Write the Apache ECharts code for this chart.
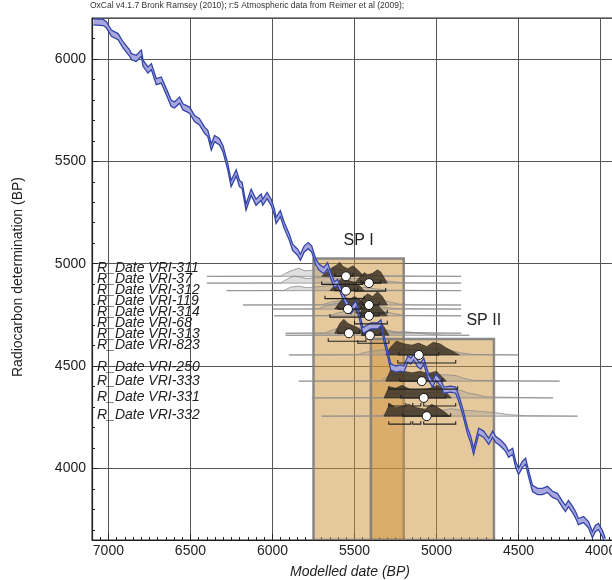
<!DOCTYPE html>
<html>
<head>
<meta charset="utf-8">
<script src="https://cdn.jsdelivr.net/npm/echarts/dist/echarts.min.js"></script>
<style>
  html, body { margin: 0; padding: 0; background: #fff; }
  #main { width: 612px; height: 580px; }
</style>
</head>
<body>
<div id="main"></div>
<script>
// calibration curve (IntCal09 as drawn)
const curveYears = [7091, 7032, 7012, 6982, 6941, 6911, 6870, 6860, 6830, 6799, 6789, 6759, 6738, 6708, 6678, 6647, 6617, 6597, 6566, 6546, 6505, 6475, 6445, 6414, 6394, 6373, 6353, 6323, 6302, 6272, 6252, 6221, 6201, 6185, 6161, 6130, 6100, 6069, 6059, 6033, 6008, 5988, 5978, 5952, 5928, 5897, 5877, 5846, 5830, 5806, 5782, 5761, 5735, 5715, 5687, 5664, 5644, 5623, 5603, 5583, 5552, 5522, 5491, 5473, 5449, 5400, 5358, 5339, 5321, 5297, 5279, 5248, 5218, 5199, 5175, 5157, 5139, 5114, 5096, 5078, 5047, 5023, 5005, 4974, 4956, 4914, 4883, 4865, 4841, 4810, 4792, 4774, 4743, 4713, 4682, 4658, 4640, 4609, 4579, 4561, 4536, 4518, 4500, 4476, 4457, 4439, 4415, 4384, 4354, 4324, 4293, 4263, 4232, 4214, 4196, 4171, 4153, 4135, 4104, 4074, 4050, 4032, 4013, 3989, 3971];
const curveAges = [6181, 6178, 6167, 6126, 6109, 6069, 6028, 6011, 6003, 6028, 5979, 5946, 5962, 5889, 5897, 5840, 5783, 5775, 5799, 5766, 5750, 5709, 5693, 5652, 5636, 5570, 5611, 5595, 5562, 5472, 5391, 5443, 5391, 5382, 5276, 5349, 5300, 5325, 5300, 5333, 5300, 5251, 5211, 5244, 5186, 5129, 5080, 5055, 5031, 5072, 5088, 5072, 5006, 4982, 4966, 4990, 4941, 4897, 4908, 4868, 4810, 4770, 4804, 4755, 4672, 4696, 4696, 4711, 4637, 4559, 4495, 4485, 4490, 4485, 4534, 4524, 4544, 4510, 4500, 4524, 4441, 4412, 4446, 4417, 4382, 4387, 4382, 4343, 4279, 4181, 4142, 4083, 4181, 4167, 4132, 4167, 4142, 4123, 4098, 4069, 4083, 4020, 3985, 4020, 4034, 3975, 3902, 3887, 3887, 3897, 3873, 3863, 3824, 3804, 3828, 3799, 3774, 3740, 3750, 3725, 3676, 3706, 3716, 3681, 3642];
const curveSigma = 15;

// phases
const phaseNames = ['SP I', 'SP II'];
const phaseStart = [5750, 5400];
const phaseEnd = [5200, 4650];
const phaseTop = [5025, 4632];
const phaseLabelYear = [5475, 4712];

// dates
const dateNames = ['R_Date VRI-311', 'R_Date VRI-37', 'R_Date VRI-312', 'R_Date VRI-119', 'R_Date VRI-314', 'R_Date VRI-68',
  'R_Date VRI-313', 'R_Date VRI-823', 'R_Date VRI-250', 'R_Date VRI-333', 'R_Date VRI-331', 'R_Date VRI-332'];
const labelAges = [4979, 4925, 4873, 4818, 4765, 4711, 4655, 4601, 4495, 4426, 4348, 4258];
const dateAges = [4938, 4905, 4868, 4798, 4778, 4745, 4660, 4650, 4554, 4426, 4344, 4255];
const dateMeans = [5552, 5412, 5552, 5412, 5540, 5412, 5534, 5406, 5108, 5090, 5078, 5060];
const range68 = [[[5620, 5510]], [[5460, 5340]], [[5620, 5480]], [[5450, 5350]], [[5600, 5460]], [[5460, 5350]],
  [[5600, 5470]], [[5450, 5340]], [[5230, 4987]], [[5224, 4962]], [[5218, 4944]], [[5206, 4914]]];
const range95 = [[[5700, 5450]], [[5500, 5310]], [[5680, 5440]], [[5490, 5300]], [[5650, 5420]], [[5500, 5300]],
  [[5660, 5430]], [[5480, 5290]], [[5236, 4883]], [[5291, 4871]],
  [[5291, 5187], [5145, 5096], [5078, 4883]], [[5291, 5157], [5145, 5096], [5078, 4883]]];
// likelihoods (unmodelled), [year, relative density]
const likelihoods = [
  [[6400,0],[5950,0.02],[5920,0.3],[5880,0.6],[5840,0.8],[5800,0.55],[5760,0.6],[5720,0.75],[5680,0.6],[5640,0.7],[5600,0.8],[5560,0.5],[5500,0.3],[5440,0.15],[5350,0.05],[4850,0]],
  [[6400,0],[5950,0.02],[5910,0.4],[5870,0.7],[5830,0.6],[5790,0.45],[5740,0.55],[5690,0.6],[5620,0.5],[5560,0.4],[5500,0.45],[5430,0.5],[5360,0.35],[5280,0.15],[5200,0.03],[4850,0]],
  [[6280,0],[5930,0.02],[5890,0.35],[5840,0.45],[5790,0.3],[5720,0.4],[5650,0.5],[5580,0.55],[5520,0.5],[5460,0.35],[5380,0.2],[5300,0.05],[4850,0]],
  [[6180,0],[5700,0.03],[5640,0.3],[5580,0.45],[5520,0.6],[5460,0.7],[5400,0.6],[5350,0.65],[5300,0.35],[5230,0.1],[5150,0.02],[4850,0]],
  [[6000,0],[5720,0.03],[5670,0.35],[5620,0.55],[5560,0.7],[5500,0.6],[5450,0.55],[5400,0.45],[5340,0.25],[5260,0.05],[4850,0]],
  [[5990,0],[5650,0.03],[5600,0.3],[5540,0.5],[5480,0.55],[5430,0.65],[5380,0.6],[5330,0.5],[5270,0.25],[5200,0.05],[4850,0]],
  [[5920,0],[5680,0.03],[5630,0.35],[5580,0.6],[5530,0.55],[5480,0.5],[5420,0.55],[5360,0.45],[5300,0.3],[5240,0.1],[4850,0]],
  [[5920,0],[5600,0.03],[5540,0.3],[5480,0.45],[5420,0.55],[5360,0.6],[5300,0.45],[5250,0.3],[5200,0.35],[5150,0.3],[5100,0.2],[5040,0.1],[4950,0.02],[4800,0]],
  [[5900,0],[5480,0.03],[5440,0.25],[5380,0.4],[5320,0.55],[5260,0.6],[5200,0.5],[5140,0.55],[5080,0.6],[5020,0.65],[4960,0.6],[4900,0.4],[4850,0.2],[4780,0.05],[4500,0]],
  [[5840,0],[5340,0.03],[5300,0.45],[5250,0.7],[5200,0.6],[5140,0.55],[5080,0.6],[5020,0.6],[4960,0.65],[4920,0.6],[4880,0.55],[4840,0.3],[4780,0.08],[4250,0]],
  [[5760,0],[5330,0.03],[5290,0.4],[5230,0.5],[5160,0.45],[5090,0.5],[5020,0.55],[4950,0.6],[4890,0.7],[4850,0.75],[4810,0.5],[4760,0.35],[4700,0.1],[4290,0]],
  [[5700,0],[5330,0.03],[5290,0.5],[5220,0.45],[5150,0.5],[5080,0.5],[5010,0.65],[4960,0.6],[4910,0.75],[4860,0.6],[4790,0.55],[4720,0.45],[4640,0.35],[4560,0.15],[4460,0.05],[4140,0]]
];
// posteriors (modelled)
const posteriors = [
  [[5700,0],[5670,0.3],[5640,0.6],[5610,0.8],[5590,1.0],[5570,0.7],[5540,0.55],[5510,0.75],[5480,0.45],[5450,0.1],[5430,0]],
  [[5500,0],[5470,0.4],[5440,0.75],[5420,0.6],[5390,0.7],[5360,0.95],[5340,0.8],[5320,0.4],[5300,0]],
  [[5650,0],[5620,0.4],[5590,0.75],[5560,1.0],[5530,0.7],[5500,0.6],[5470,0.35],[5440,0]],
  [[5480,0],[5450,0.5],[5420,0.8],[5390,0.6],[5360,0.95],[5330,0.6],[5300,0]],
  [[5620,0],[5590,0.5],[5560,0.85],[5530,0.7],[5500,0.9],[5470,0.7],[5440,0.3],[5410,0]],
  [[5480,0],[5450,0.5],[5420,0.85],[5390,0.7],[5360,0.8],[5330,0.4],[5300,0]],
  [[5620,0],[5590,0.7],[5565,1.0],[5540,0.7],[5510,0.55],[5480,0.4],[5450,0.15],[5430,0]],
  [[5460,0],[5430,0.5],[5400,0.65],[5370,0.85],[5345,1.0],[5320,0.6],[5290,0]],
  [[5310,0],[5280,0.55],[5245,1.0],[5200,0.8],[5150,0.7],[5110,0.85],[5060,0.6],[5020,0.9],[4980,0.8],[4940,0.5],[4900,0.25],[4860,0]],
  [[5310,0],[5280,0.8],[5245,1.0],[5200,0.7],[5150,0.6],[5100,0.7],[5050,0.55],[5000,0.7],[4970,0.35],[4940,0]],
  [[5320,0],[5290,0.8],[5250,0.7],[5210,0.9],[5160,0.6],[5100,0.6],[5050,0.65],[4990,0.9],[4950,0.5],[4910,0]],
  [[5320,0],[5285,0.9],[5250,0.6],[5200,0.7],[5170,0.85],[5120,0.6],[5070,0.5],[5030,0.85],[4990,0.6],[4950,0.3],[4920,0]]
];

const FONT = 'Liberation Sans, Arial, sans-serif';
const chart = echarts.init(document.getElementById('main'));

function shape(api, pts, age, h) {
    return pts.map(p => {
        const c = api.coord([p[0], age]);
        return [c[0], c[1] - p[1] * h];
    });
}

const rowData = dateAges.map((a, i) => [dateMeans[i], a]);
const plain = v => String(v);

const option = {
    animation: false,
    backgroundColor: '#fff',
    grid: { left: 92, top: 18, width: 525, height: 522, show: true, borderColor: '#222', borderWidth: 1,
            containLabel: false, outerBoundsMode: 'none' },
    xAxis: [
        {
            type: 'value', inverse: true, min: 3900, max: 7100, minInterval: 500, maxInterval: 500,
            position: 'bottom',
            axisLine: { show: true, onZero: false, lineStyle: { color: '#222', width: 1.2 } },
            axisTick: { inside: true, length: 6, lineStyle: { color: '#222' } },
            axisLabel: { showMinLabel: false, showMaxLabel: false, color: '#222', fontSize: 14, margin: 4, fontFamily: FONT, formatter: plain },
            splitLine: { show: true, lineStyle: { color: '#555', width: 1 } }
        },
        {   // minor ticks every 50
            type: 'value', inverse: true, min: 3900, max: 7100, minInterval: 50, maxInterval: 50,
            position: 'bottom',
            axisLine: { show: false },
            axisTick: { inside: true, length: 3, lineStyle: { color: '#222' } },
            axisLabel: { show: false },
            splitLine: { show: false }
        }
    ],
    yAxis: [
        {
            type: 'value', min: 3650, max: 6200, minInterval: 500, maxInterval: 500,
            axisLine: { show: true, onZero: false, lineStyle: { color: '#222', width: 1.2 } },
            axisTick: { inside: true, length: 6, lineStyle: { color: '#222' } },
            axisLabel: { showMinLabel: false, showMaxLabel: false, color: '#222', fontSize: 14, margin: 6, fontFamily: FONT, formatter: plain },
            splitLine: { show: true, lineStyle: { color: '#555', width: 1 } }
        },
        {   // minor ticks every 100
            type: 'value', min: 3650, max: 6200, minInterval: 100, maxInterval: 100, position: 'left',
            axisLine: { show: false },
            axisTick: { inside: true, length: 3, lineStyle: { color: '#222' } },
            axisLabel: { show: false },
            splitLine: { show: false }
        }
    ],
    graphic: [
        { type: 'text', left: 90, top: 1, style: { text: 'OxCal v4.1.7 Bronk Ramsey (2010); r:5 Atmospheric data from Reimer et al (2009);', fill: '#333', font: '8.5px ' + FONT } },
        { type: 'text', x: 18, y: 277, rotation: Math.PI / 2, style: { text: 'Radiocarbon determination (BP)', fill: '#222', font: '14px ' + FONT, textAlign: 'center', textVerticalAlign: 'middle' } },
        { type: 'text', x: 350, y: 572, style: { text: 'Modelled date (BP)', fill: '#222', font: 'italic 14px ' + FONT, textAlign: 'center', textVerticalAlign: 'middle' } }
    ],
    series: [
        {   // phase boxes
            type: 'custom', z: 1, clip: true,
            data: phaseNames.map((n, i) => [phaseStart[i], phaseTop[i]]),
            renderItem(params, api) {
                const i = params.dataIndex;
                const p0 = api.coord([phaseStart[i], phaseTop[i]]);
                const p1 = api.coord([phaseEnd[i], 3650]);
                const lab = api.coord([phaseLabelYear[i], phaseTop[i]]);
                return {
                    type: 'group', children: [
                        { type: 'rect', shape: { x: p0[0], y: p0[1], width: p1[0] - p0[0], height: p1[1] - p0[1] },
                          style: { fill: 'rgba(205,145,60,0.5)', stroke: 'rgba(120,120,120,0.85)', lineWidth: 2.5 } },
                        { type: 'text', x: lab[0], y: lab[1] - 18,
                          style: { text: phaseNames[i], fill: '#222', font: '16px ' + FONT, textAlign: 'center', textVerticalAlign: 'middle' } }
                    ]
                };
            }
        },
        {   // likelihoods
            type: 'custom', z: 2, clip: true, data: rowData,
            renderItem(params, api) {
                const i = params.dataIndex;
                return { type: 'polygon', shape: { points: shape(api, likelihoods[i], dateAges[i], 10) },
                         style: { fill: 'rgba(150,150,150,0.3)', stroke: '#8c8c8c', lineWidth: 0.8 } };
            }
        },
        {   // posteriors
            type: 'custom', z: 3, clip: true, data: rowData,
            renderItem(params, api) {
                const i = params.dataIndex;
                return { type: 'polygon', shape: { points: shape(api, posteriors[i], dateAges[i], 14) },
                         style: { fill: 'rgba(62,52,36,0.85)', stroke: 'rgba(35,30,20,0.9)', lineWidth: 0.6 } };
            }
        },
        {   // calibration curve band
            type: 'custom', z: 4, clip: true, data: [[5500, 5000]],
            renderItem(params, api) {
                const top = curveYears.map((y, i) => api.coord([y, curveAges[i] + curveSigma]));
                const bot = curveYears.map((y, i) => api.coord([y, curveAges[i] - curveSigma]));
                return {
                    type: 'group', children: [
                        { type: 'polygon', shape: { points: top.concat(bot.slice().reverse()) }, style: { fill: '#a7a7dd' } },
                        { type: 'polyline', shape: { points: top }, style: { stroke: '#3344a6', lineWidth: 1.3, fill: null } },
                        { type: 'polyline', shape: { points: bot }, style: { stroke: '#3344a6', lineWidth: 1.3, fill: null } }
                    ]
                };
            }
        },
        {   // ranges and mean markers
            type: 'custom', z: 5, clip: true, data: rowData,
            renderItem(params, api) {
                const i = params.dataIndex;
                const children = [];
                const addBars = (segs, dy) => {
                    segs.forEach(s => {
                        const a = api.coord([s[0], dateAges[i]]);
                        const b = api.coord([s[1], dateAges[i]]);
                        const y = a[1] + dy;
                        children.push({ type: 'polyline', shape: { points: [[a[0], y - 3], [a[0], y], [b[0], y], [b[0], y - 3]] },
                                        style: { stroke: '#222', lineWidth: 1.1, fill: null } });
                    });
                };
                addBars(range68[i], 0);
                addBars(range95[i], 8);
                const c = api.coord([dateMeans[i], dateAges[i]]);
                children.push({ type: 'circle', shape: { cx: c[0], cy: c[1], r: 4.5 }, style: { fill: '#fff', stroke: '#111', lineWidth: 1 } });
                return { type: 'group', children };
            }
        },
        {   // date labels
            type: 'custom', z: 6, data: labelAges.map(a => [7000, a]),
            renderItem(params, api) {
                const i = params.dataIndex;
                const y = api.coord([7000, labelAges[i]])[1];
                return { type: 'text', x: params.coordSys.x + 5, y: y,
                         style: { text: dateNames[i], fill: '#222', font: 'italic 14px ' + FONT, textVerticalAlign: 'middle' } };
            }
        }
    ]
};
chart.setOption(option);
</script>
</body>
</html>
